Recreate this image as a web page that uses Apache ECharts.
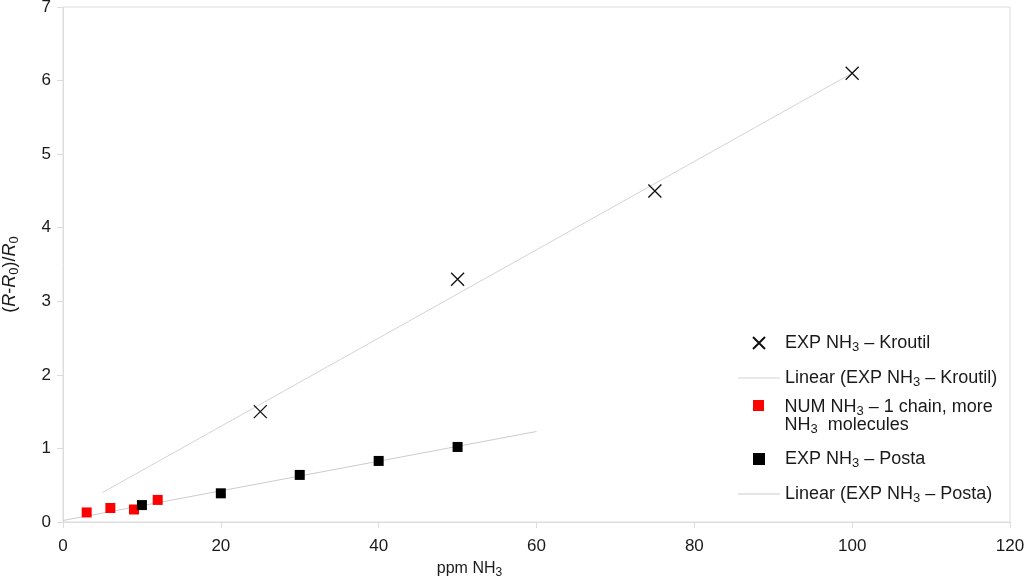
<!DOCTYPE html>
<html>
<head>
<meta charset="utf-8">
<script src="https://cdn.jsdelivr.net/npm/echarts@6/dist/echarts.min.js"></script>
<style>html,body{margin:0;padding:0;background:#fff}#c{width:1024px;height:581px}</style>
</head>
<body>
<div id="c"></div>
<script>
// ---- data ----
const kroutilX = [25, 50, 75, 100];
const kroutilY = [1.5, 3.3, 4.5, 6.1];
const kroutilTrend = [[5, 0.40], [100, 6.10]];
const numX = [3, 6, 9, 12];
const numY = [0.13, 0.19, 0.17, 0.30];
const postaX = [10, 20, 30, 40, 50];
const postaY = [0.23, 0.39, 0.64, 0.83, 1.02];
const postaTrend = [[0, 0.02], [60, 1.23]];
const xTicks = [0, 20, 40, 60, 80, 100, 120];
const yTicks = [0, 1, 2, 3, 4, 5, 6, 7];
const seriesNames = [
  'EXP NH3 – Kroutil',
  'Linear (EXP NH3 – Kroutil)',
  'NUM NH3 – 1 chain, more NH3 molecules',
  'EXP NH3 – Posta',
  'Linear (EXP NH3 – Posta)'
];
const legendRich = {
  0: '{t|EXP NH}{s|3}{t| – Kroutil}',
  1: '{t|Linear (EXP NH}{s|3}{t| – Kroutil)}',
  2: '{t|NUM NH}{s|3}{t| – 1 chain, more}\n{t|NH}{s|3}{t|  molecules}',
  3: '{t|EXP NH}{s|3}{t| – Posta}',
  4: '{t|Linear (EXP NH}{s|3}{t| – Posta)}'
};

const zip = (xs, ys) => xs.map((x, i) => [x, ys[i]]);
const FONT = 'Liberation Sans';
const TXT = '#1a1a1a';
const crossPath = 'path://M0,0L10,10M10,0L0,10';
const squarePath = 'path://M0,0h10v10h-10z';
const squareTopPath = 'path://M0,0h11v11h-11z M0,32L0,32';
const linePath = 'path://M0,0h42v1h-42z';

function subStyle(size) {
  return { fontSize: size, color: TXT, fontFamily: FONT, lineHeight: 4, verticalAlign: 'top', padding: [7, 0, 0, 0] };
}
const richLegend = {
  t: { fontSize: 18, color: TXT, fontFamily: FONT, lineHeight: 18, verticalAlign: 'middle' },
  s: subStyle(13)
};
function makeLegend(idx, icons, left, top, itemHeight) {
  return {
    orient: 'vertical',
    left: left, top: top, padding: 0,
    itemWidth: 42, itemHeight: itemHeight,
    itemGap: 15,
    selectedMode: false,
    data: idx.map((k, j) => ({ name: seriesNames[k], icon: icons[j] })),
    formatter: name => legendRich[seriesNames.indexOf(name)],
    textStyle: { lineHeight: 18, rich: richLegend }
  };
}

const chart = echarts.init(document.getElementById('c'));
chart.setOption({
  animation: false,
  backgroundColor: '#fff',
  textStyle: { fontFamily: FONT },
  grid: { left: 63, right: 14, top: 7, bottom: 59, outerBoundsMode: 'none', containLabel: false,
          show: true, borderColor: '#dcdcdc', borderWidth: 1 },
  xAxis: {
    type: 'value', min: xTicks[0], max: xTicks[xTicks.length - 1], interval: 20,
    splitLine: { show: false },
    axisLine: { lineStyle: { color: '#dcdcdc' } },
    axisTick: { show: true, length: 6, lineStyle: { color: '#dcdcdc' } },
    axisLabel: { color: TXT, fontSize: 17, fontFamily: FONT, margin: 16 },
    name: '{t|ppm NH}{s|3}',
    nameLocation: 'middle',
    nameGap: 37,
    nameTextStyle: {
      padding: [0, 134, 0, 0],
      rich: {
        t: { fontSize: 16, color: TXT, fontFamily: FONT, lineHeight: 18, verticalAlign: 'middle' },
        s: subStyle(12)
      }
    }
  },
  yAxis: {
    type: 'value', min: yTicks[0], max: yTicks[yTicks.length - 1], interval: 1,
    splitLine: { show: false },
    axisLine: { show: true, lineStyle: { color: '#dcdcdc' } },
    axisTick: { show: true, length: 6, lineStyle: { color: '#dcdcdc' } },
    axisLabel: { color: TXT, fontSize: 17, fontFamily: FONT, margin: 12 },
    name: '{t|(}{i|R}{t|-}{i|R}{s|0}{t|)/}{i|R}{s|0}',
    nameLocation: 'middle',
    nameGap: 44,
    nameRotate: 90,
    nameTextStyle: {
      padding: [0, 20, 0, 0],
      rich: {
        t: { fontSize: 18, color: TXT, fontFamily: FONT, lineHeight: 18, verticalAlign: 'middle' },
        i: { fontSize: 18, color: TXT, fontFamily: FONT, fontStyle: 'italic', lineHeight: 18, verticalAlign: 'middle' },
        s: subStyle(13)
      }
    }
  },
  legend: [
    makeLegend([0, 1], [crossPath, linePath], 738, 334, 12),
    makeLegend([2], [squareTopPath], 753, 398, 32),
    makeLegend([3, 4], [squarePath, linePath], 738, 450, 12)
  ],
  series: [
    {
      name: seriesNames[0], type: 'scatter', data: zip(kroutilX, kroutilY),
      symbol: crossPath, symbolSize: 13, z: 5,
      itemStyle: { color: 'rgba(0,0,0,0)', borderColor: '#111', borderWidth: 1.3, opacity: 1 }
    },
    {
      name: seriesNames[1], type: 'line', data: kroutilTrend,
      symbol: 'none', showSymbol: false, z: 2,
      lineStyle: { color: '#d4d4d4', width: 1 },
      itemStyle: { color: '#d4d4d4' }
    },
    {
      name: seriesNames[2], type: 'scatter', data: zip(numX, numY),
      symbol: 'rect', symbolSize: 10, z: 5,
      itemStyle: { color: '#ff0000', opacity: 1 }
    },
    {
      name: seriesNames[3], type: 'scatter', data: zip(postaX, postaY),
      symbol: 'rect', symbolSize: 10, z: 6,
      itemStyle: { color: '#000000', opacity: 1 }
    },
    {
      name: seriesNames[4], type: 'line', data: postaTrend,
      symbol: 'none', showSymbol: false, z: 2,
      lineStyle: { color: '#cccccc', width: 1 },
      itemStyle: { color: '#cccccc' }
    }
  ]
});
</script>
</body>
</html>
